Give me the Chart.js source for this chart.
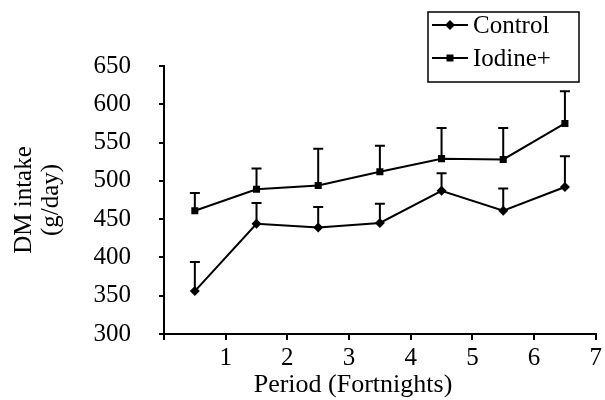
<!DOCTYPE html>
<html>
<head>
<meta charset="utf-8">
<script src="https://cdn.jsdelivr.net/npm/chart.js@4.4.1/dist/chart.umd.min.js"></script>
<style>
  html, body { margin: 0; padding: 0; background: #fff; }
  #wrap { width: 605px; height: 400px; }
</style>
</head>
<body>
<div id="wrap"><canvas id="grafico" width="605" height="400"></canvas></div>
<script>
// Dados
const periodos = [0.5, 1.5, 2.5, 3.5, 4.5, 5.5, 6.5];
const controle = [356, 444, 439, 445, 487, 461, 492];
const controleErro = [38, 27, 27, 25, 23, 29, 40];
const iodo = [461, 489, 494, 512, 529, 528, 575];
const iodoErro = [23, 27, 48, 34, 40, 41, 42];
const nomesSeries = ['Control', 'Iodine+'];
const tituloX = 'Period (Fortnights)';
const tituloY = ['DM intake', '(g/day)'];

const fonte = '"Liberation Serif", "Times New Roman", serif';

const pontos = (xs, ys) => xs.map((x, i) => ({ x: x, y: ys[i] }));

// Barras de erro (só para cima)
const barrasErro = {
    id: 'barrasErro',
    afterDatasetsDraw(chart) {
        const ctx = chart.ctx;
        const yScale = chart.scales.y;
        ctx.save();
        ctx.strokeStyle = '#000';
        ctx.lineWidth = 2;
        chart.data.datasets.forEach((ds, di) => {
            const meta = chart.getDatasetMeta(di);
            meta.data.forEach((p, i) => {
                const topo = yScale.getPixelForValue(ds.data[i].y + ds.erros[i]);
                ctx.beginPath();
                ctx.moveTo(p.x, p.y);
                ctx.lineTo(p.x, topo);
                ctx.moveTo(p.x - 5, topo);
                ctx.lineTo(p.x + 5, topo);
                ctx.stroke();
            });
        });
        ctx.restore();
    }
};

// Legenda com caixa e título do eixo X
const extras = {
    id: 'extras',
    afterDraw(chart) {
        const ctx = chart.ctx;
        ctx.save();
        ctx.strokeStyle = '#000';
        ctx.fillStyle = '#000';
        ctx.lineWidth = 1.5;
        ctx.strokeRect(428, 12, 151, 70);

        const linhas = [25, 58];
        chart.data.datasets.forEach((ds, i) => {
            const y = linhas[i];
            ctx.lineWidth = 2;
            ctx.beginPath();
            ctx.moveTo(432, y);
            ctx.lineTo(468, y);
            ctx.stroke();
            ctx.beginPath();
            if (ds.pointStyle === 'rectRot') {
                ctx.moveTo(450, y - 5); ctx.lineTo(455, y); ctx.lineTo(450, y + 5); ctx.lineTo(445, y);
            } else {
                ctx.rect(446.5, y - 3.5, 7, 7);
            }
            ctx.closePath();
            ctx.fill();
            ctx.font = '25px ' + fonte;
            ctx.textAlign = 'left';
            ctx.textBaseline = 'middle';
            ctx.fillText(ds.label, 473, y + 1);
        });

        ctx.font = '26px ' + fonte;
        ctx.textAlign = 'center';
        ctx.textBaseline = 'middle';
        ctx.fillText(tituloX, 353, 385);
        ctx.restore();
    }
};

new Chart(document.getElementById('grafico').getContext('2d'), {
    type: 'line',
    data: {
        datasets: [
            { label: nomesSeries[0], data: pontos(periodos, controle), erros: controleErro, pointStyle: 'rectRot' },
            { label: nomesSeries[1], data: pontos(periodos, iodo), erros: iodoErro, pointStyle: 'rect' }
        ].map(d => Object.assign(d, {
            borderColor: '#000', backgroundColor: '#000', borderWidth: 2,
            pointRadius: 5, pointBorderWidth: 0, tension: 0
        }))
    },
    options: {
        responsive: false,
        animation: false,
        events: [],
        layout: { padding: { top: 66, right: 7, bottom: 0, left: 0 } },
        plugins: { legend: { display: false }, tooltip: { enabled: false } },
        scales: {
            x: {
                type: 'linear', min: 0, max: 7,
                afterFit: s => { s.height = 66; },
                border: { display: true, color: '#000', width: 2 },
                grid: { drawOnChartArea: false, color: '#000', tickLength: 6, lineWidth: 2 },
                ticks: {
                    stepSize: 1, color: '#000', padding: 3,
                    font: { family: fonte, size: 25 },
                    callback: v => v === 0 ? '' : v
                }
            },
            y: {
                min: 300, max: 650,
                afterFit: s => { s.width = 164; },
                border: { display: true, color: '#000', width: 2 },
                grid: { drawOnChartArea: false, color: '#000', tickLength: 5, lineWidth: 2 },
                ticks: { stepSize: 50, color: '#000', padding: 28, font: { family: fonte, size: 25 } },
                title: {
                    display: true, text: tituloY, color: '#000',
                    font: { family: fonte, size: 25, lineHeight: 1.08 },
                    padding: { top: 11, bottom: 0 }
                }
            }
        }
    },
    plugins: [barrasErro, extras]
});
</script>
</body>
</html>
